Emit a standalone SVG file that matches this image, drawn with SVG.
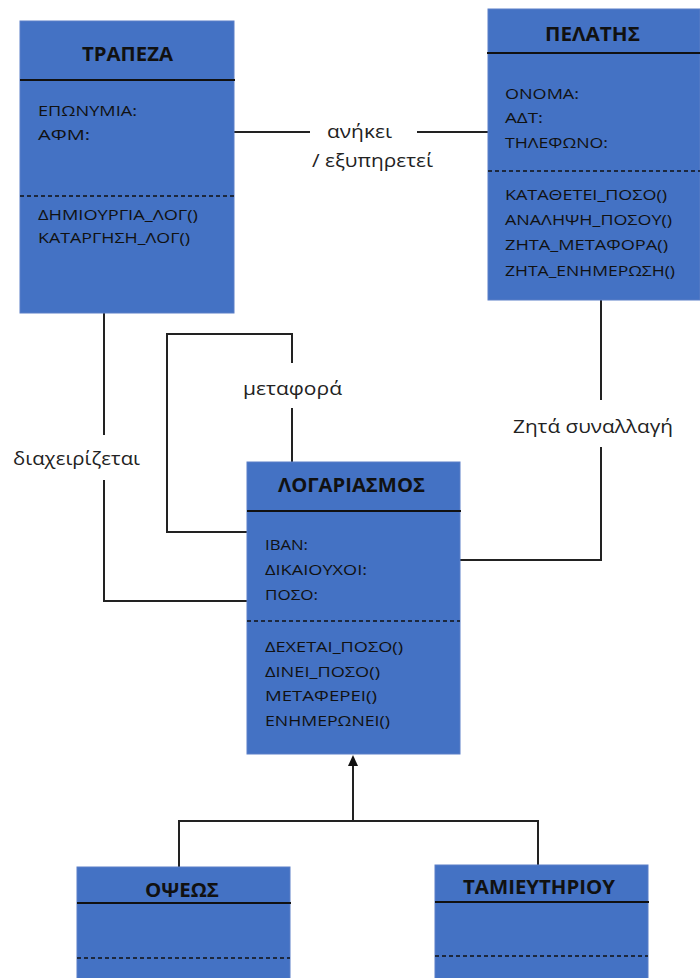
<svg xmlns="http://www.w3.org/2000/svg" width="700" height="978" viewBox="0 0 700 978">
<style>
.box{fill:#4472C4;stroke:#5B7FC7;stroke-width:1}
.hdr{stroke:#111;stroke-width:2}
.dash{stroke:#111;stroke-width:1.5;stroke-dasharray:4 3}
.title{font-family:"Open Sans","Liberation Sans",sans-serif;font-weight:bold;font-size:19px;fill:#111}
.item{font-family:"Open Sans","Liberation Sans",sans-serif;font-size:14px;fill:#111}
.lbl{font-family:"Open Sans","Liberation Sans",sans-serif;font-size:19px;fill:#222}
.conn{fill:none;stroke:#222;stroke-width:2}
</style>
<g id="connectors">
<line class="conn" x1="234" y1="132" x2="310" y2="132"/>
<line class="conn" x1="417" y1="132" x2="488" y2="132"/>
<polyline class="conn" points="104,313 104,435"/>
<polyline class="conn" points="104,480 104,601 247,601"/>
<polyline class="conn" points="292,462 292,408"/>
<polyline class="conn" points="292,363 292,334 167,334 167,532 247,532"/>
<polyline class="conn" points="601,300 601,400"/>
<polyline class="conn" points="601,447 601,560 460,560"/>
<polyline class="conn" points="353,821 353,765"/>
<path d="M348,766 L353,755 L358,766 Z" fill="#111"/>
<polyline class="conn" points="179,867 179,821 538,821 538,865"/>
<text class="lbl" x="327" y="138" textLength="65" lengthAdjust="spacingAndGlyphs">ανήκει</text>
<text class="lbl" x="312" y="167" textLength="121" lengthAdjust="spacingAndGlyphs">/ εξυπηρετεί</text>
<text class="lbl" x="13" y="465" textLength="127" lengthAdjust="spacingAndGlyphs">διαχειρίζεται</text>
<text class="lbl" x="243" y="395" textLength="99" lengthAdjust="spacingAndGlyphs">μεταφορά</text>
<text class="lbl" x="513" y="433" textLength="160" lengthAdjust="spacingAndGlyphs">Ζητά συναλλαγή</text>
</g>
<g id="trapeza">
<rect class="box" x="20" y="21" width="214" height="292"/>
<line class="hdr" x1="20" y1="80" x2="235" y2="80"/>
<line class="dash" x1="20" y1="196" x2="236" y2="196"/>
<text class="title" x="82" y="61" textLength="91" lengthAdjust="spacingAndGlyphs">ΤΡΑΠΕΖΑ</text>
<text class="item" x="38" y="116" textLength="99" lengthAdjust="spacingAndGlyphs">ΕΠΩΝΥΜΙΑ:</text>
<text class="item" x="38" y="140" textLength="52" lengthAdjust="spacingAndGlyphs">ΑΦΜ:</text>
<text class="item" x="38" y="220" textLength="160" lengthAdjust="spacingAndGlyphs">ΔΗΜΙΟΥΡΓΙΑ_ΛΟΓ()</text>
<text class="item" x="38" y="243" textLength="152" lengthAdjust="spacingAndGlyphs">ΚΑΤΑΡΓΗΣΗ_ΛΟΓ()</text>
</g>
<g id="pelatis">
<rect class="box" x="488" y="9" width="212" height="291"/>
<line class="hdr" x1="487" y1="53" x2="700" y2="53"/>
<line class="dash" x1="488" y1="171" x2="700" y2="171"/>
<text class="title" x="545" y="41" textLength="95" lengthAdjust="spacingAndGlyphs">ΠΕΛΑΤΗΣ</text>
<text class="item" x="505" y="99" textLength="74" lengthAdjust="spacingAndGlyphs">ΟΝΟΜΑ:</text>
<text class="item" x="505" y="123" textLength="38" lengthAdjust="spacingAndGlyphs">ΑΔΤ:</text>
<text class="item" x="505" y="148" textLength="103" lengthAdjust="spacingAndGlyphs">ΤΗΛΕΦΩΝΟ:</text>
<text class="item" x="505" y="200" textLength="162" lengthAdjust="spacingAndGlyphs">ΚΑΤΑΘΕΤΕΙ_ΠΟΣΟ()</text>
<text class="item" x="505" y="225" textLength="167" lengthAdjust="spacingAndGlyphs">ΑΝΑΛΗΨΗ_ΠΟΣΟΥ()</text>
<text class="item" x="505" y="250" textLength="163" lengthAdjust="spacingAndGlyphs">ΖΗΤΑ_ΜΕΤΑΦΟΡΑ()</text>
<text class="item" x="505" y="276" textLength="170" lengthAdjust="spacingAndGlyphs">ΖΗΤΑ_ΕΝΗΜΕΡΩΣΗ()</text>
</g>
<g id="logariasmos">
<rect class="box" x="247" y="462" width="213" height="292"/>
<line class="hdr" x1="247" y1="511" x2="461" y2="511"/>
<line class="dash" x1="247" y1="621" x2="460" y2="621"/>
<text class="title" x="278" y="492" textLength="147" lengthAdjust="spacingAndGlyphs">ΛΟΓΑΡΙΑΣΜΟΣ</text>
<text class="item" x="265" y="550" textLength="43" lengthAdjust="spacingAndGlyphs">ΙΒΑΝ:</text>
<text class="item" x="265" y="575" textLength="102" lengthAdjust="spacingAndGlyphs">ΔΙΚΑΙΟΥΧΟΙ:</text>
<text class="item" x="265" y="600" textLength="53" lengthAdjust="spacingAndGlyphs">ΠΟΣΟ:</text>
<text class="item" x="265" y="652" textLength="138" lengthAdjust="spacingAndGlyphs">ΔΕΧΕΤΑΙ_ΠΟΣΟ()</text>
<text class="item" x="265" y="677" textLength="115" lengthAdjust="spacingAndGlyphs">ΔΙΝΕΙ_ΠΟΣΟ()</text>
<text class="item" x="265" y="701" textLength="112" lengthAdjust="spacingAndGlyphs">ΜΕΤΑΦΕΡΕΙ()</text>
<text class="item" x="265" y="726" textLength="125" lengthAdjust="spacingAndGlyphs">ΕΝΗΜΕΡΩΝΕΙ()</text>
</g>
<g id="opseos">
<rect class="box" x="77" y="867" width="213" height="120"/>
<line class="hdr" x1="77" y1="903" x2="291" y2="903"/>
<line class="dash" x1="77" y1="958" x2="290" y2="958"/>
<text class="title" x="145" y="897" textLength="74" lengthAdjust="spacingAndGlyphs">ΟΨΕΩΣ</text>
</g>
<g id="tamieutiriou">
<rect class="box" x="435" y="865" width="213" height="120"/>
<line class="hdr" x1="435" y1="902" x2="649" y2="902"/>
<line class="dash" x1="435" y1="956" x2="648" y2="956"/>
<text class="title" x="463" y="894" textLength="152" lengthAdjust="spacingAndGlyphs">ΤΑΜΙΕΥΤΗΡΙΟΥ</text>
</g>
</svg>
